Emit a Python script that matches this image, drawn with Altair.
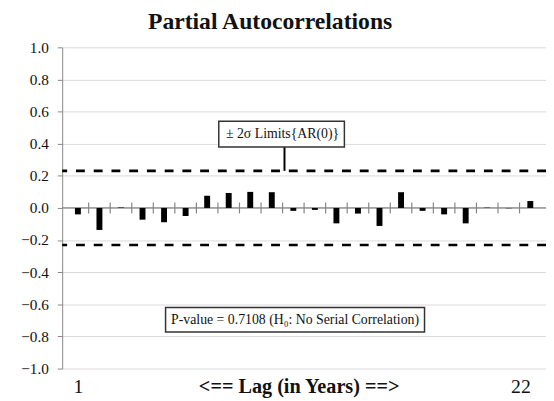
import altair as alt
import pandas as pd

# ---- data ----
lags = list(range(1, 23))
pacf = [-0.040, -0.137, 0.003, -0.073, -0.089, -0.050, 0.076, 0.093, 0.100, 0.098,
        -0.018, -0.012, -0.096, -0.035, -0.112, 0.098, -0.018, -0.040, -0.096,
        0.002, -0.002, 0.043]
limits = [0.231, -0.231]
boundaries = [b + 0.5 for b in range(1, 22)]
y_ticks = [-1.0, -0.8, -0.6, -0.4, -0.2, 0.0, 0.2, 0.4, 0.6, 0.8, 1.0]
x_labels = [1, 22]

title_text = "Partial Autocorrelations"
x_title = "<==  Lag (in Years)  ==>"
limit_note = "± 2σ Limits{AR(0)}"
pvalue_note = "P-value = 0.7108  (H₀: No Serial Correlation)"

FONT = "Liberation Serif"
GRAY = "#868686"

df = pd.DataFrame({"lag": lags, "pacf": pacf})
lim_df = pd.DataFrame({"lim": limits})
bnd_df = pd.DataFrame({"b": boundaries})

xs = alt.Scale(domain=[0.5, 22.5], nice=False, zero=False)
ys = alt.Scale(domain=[-1, 1], nice=False)

x_axis = alt.Axis(
    values=x_labels, grid=False, domain=False, ticks=False, tickSize=0,
    labelFont=FONT, labelFontSize=20, labelColor="#111",
    labelBaseline="alphabetic", labelPadding=24,
    labelAlign={"expr": "datum.value == 1 ? 'center' : 'right'"},
    title=x_title, titleFont=FONT, titleFontSize=20.5, titleFontWeight="bold",
    titleColor="#111", titleBaseline="alphabetic", titleX=240, titleY=24)
y_axis = alt.Axis(
    values=y_ticks, format=".1f", grid=True, gridColor="#d9d9d9",
    domainColor=GRAY, tickColor=GRAY, tickSize=5, labelPadding=9,
    labelFont=FONT, labelFontSize=15.5, labelColor="#111", title=None)


def X(field):
    return alt.X(field, scale=xs, axis=x_axis)


def Y(field):
    return alt.Y(field, scale=ys, axis=y_axis)


bars = alt.Chart(df).mark_bar(color="black", width=6).encode(
    x=X("lag:Q"), y=Y("pacf:Q"))

zero_line = alt.Chart(df).transform_filter("datum.lag == 1").transform_calculate(
    z="0").mark_rule(color=GRAY, strokeWidth=1.2).encode(y=Y("z:Q"))

cross_ticks = alt.Chart(bnd_df).transform_calculate(
    lo="-0.034", hi="0.034").mark_rule(color=GRAY, strokeWidth=1.2).encode(
    x=X("b:Q"), y=Y("lo:Q"), y2="hi:Q")

limit_lines = alt.Chart(lim_df).mark_rule(
    color="black", strokeWidth=2.6, strokeDash=[9, 9]).encode(y=Y("lim:Q"))

# annotation for the limits
note_df = pd.DataFrame({"x1": [7.54], "x2": [13.37], "y1": [0.38], "y2": [0.54],
                        "cx": [10.5], "cy": [0.46], "lx": [10.59], "ly1": [0.231]})
connector = alt.Chart(note_df).mark_rule(color="black", strokeWidth=2).encode(
    x=X("lx:Q"), y=Y("ly1:Q"), y2="y1:Q")
box1 = alt.Chart(note_df).mark_rect(fill="white", stroke="#333", strokeWidth=1.5).encode(
    x=X("x1:Q"), x2="x2:Q", y=Y("y1:Q"), y2="y2:Q")
text1 = alt.Chart(note_df).mark_text(font=FONT, fontSize=14, color="#111").encode(
    x=X("cx:Q"), y=Y("cy:Q"), text=alt.value(limit_note))

pv_df = pd.DataFrame({"x1": [5.07], "x2": [17.09], "y1": [-0.773], "y2": [-0.62],
                      "cx": [11.08], "cy": [-0.696]})
box2 = alt.Chart(pv_df).mark_rect(fill="white", stroke="#333", strokeWidth=1.5).encode(
    x=X("x1:Q"), x2="x2:Q", y=Y("y1:Q"), y2="y2:Q")
text2 = alt.Chart(pv_df).mark_text(font=FONT, fontSize=14, color="#111").encode(
    x=X("cx:Q"), y=Y("cy:Q"), text=alt.value(pvalue_note))

# chart title, centred where the reference places it
title_mark = alt.Chart(pd.DataFrame({"t": [title_text]})).mark_text(
    font=FONT, fontSize=24, fontWeight="bold", color="#111", baseline="alphabetic",
    align="center").encode(x=alt.value(211), y=alt.value(-19), text="t:N")

chart = alt.layer(
    limit_lines, zero_line, cross_ticks, bars, connector, box1, text1, box2, text2,
    title_mark
).properties(
    width=491, height=326,
    autosize=alt.AutoSizeParams(type="none"),
    padding={"left": 55, "top": 37, "right": 0, "bottom": 30},
    background="white",
).configure_view(stroke=None)

chart.save("out.html", embed_options={"renderer": "svg", "actions": False})
